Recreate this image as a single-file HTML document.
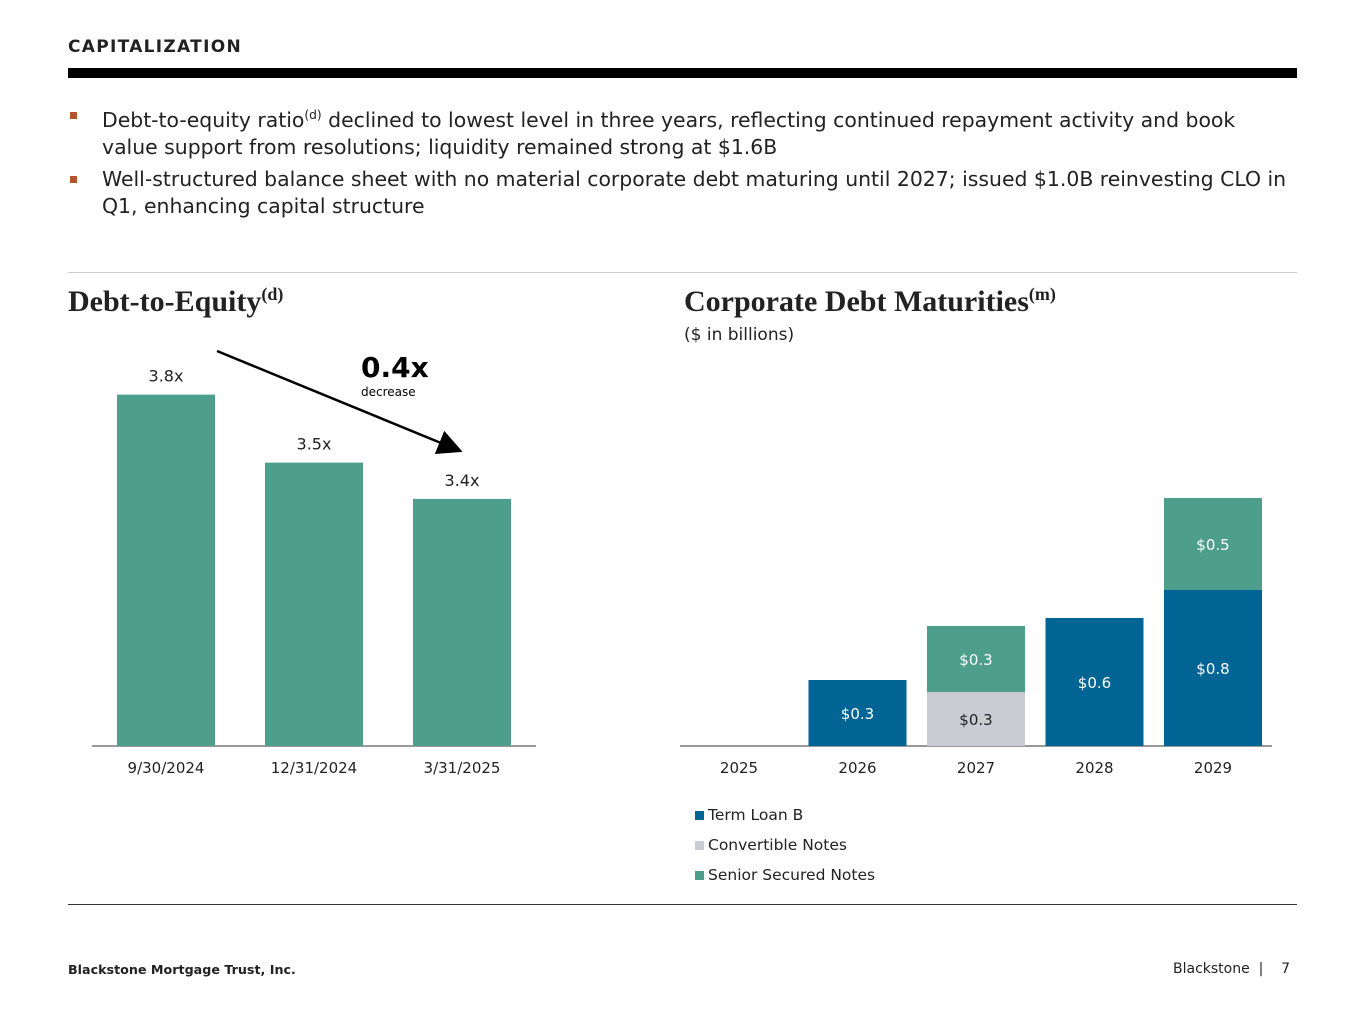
<!DOCTYPE html>
<html><head><meta charset="utf-8"><style>
body{margin:0;width:1365px;height:1024px;background:#fff;font-family:"DejaVu Sans","Liberation Sans",sans-serif;color:#222;position:relative;overflow:hidden}
.a{position:absolute}
.bul{font-size:20.4px;line-height:27px;left:102px;width:1188px}
.sq{position:absolute;left:70px;width:7px;height:7px;background:#b5532c}
.ttl{font-family:"Liberation Serif",serif;font-weight:bold;font-size:30px}
sup{font-size:60%}
</style></head><body>
<div class="a" style="left:68px;top:37px;font-size:17px;font-weight:bold;letter-spacing:1.3px">CAPITALIZATION</div>
<div class="a" style="left:68px;top:68px;width:1229px;height:10px;background:#000"></div>
<div class="sq" style="top:112px"></div>
<div class="a bul" style="top:102px">Debt-to-equity ratio<sup>(d)</sup> declined to lowest level in three years, reflecting continued repayment activity and book value support from resolutions; liquidity remained strong at $1.6B</div>
<div class="sq" style="top:176px"></div>
<div class="a bul" style="top:166px">Well-structured balance sheet with no material corporate debt maturing until 2027; issued $1.0B reinvesting CLO in Q1, enhancing capital structure</div>
<div class="a" style="left:68px;top:272px;width:1229px;height:1px;background:#ccc"></div>
<div class="a ttl" style="left:68px;top:284px">Debt-to-Equity<sup>(d)</sup></div>
<div class="a ttl" style="left:684px;top:284px">Corporate Debt Maturities<sup>(m)</sup></div>
<div class="a" style="left:684px;top:325px;font-size:17px">($ in billions)</div>
<svg class="a" style="left:0;top:0" width="1365" height="1024" id="svg">
<defs><marker id="ah" markerWidth="10" markerHeight="10" refX="8" refY="5" orient="auto"><path d="M0,0L10,5L0,10z" fill="#000"/></marker></defs>
<line x1="217" y1="351" x2="458" y2="450" stroke="#000" stroke-width="2.5" marker-end="url(#ah)"/>
<text x="361" y="377" font-size="28" font-weight="bold" font-family="DejaVu Sans">0.4x</text>
<text x="361" y="396" font-size="12" font-family="DejaVu Sans">decrease</text>
</svg>
<div class="a" style="left:695px;top:800px;font-size:15.5px;line-height:30px">
<div><span style="display:inline-block;width:9px;height:9px;background:#006494;margin-right:4px"></span>Term Loan B</div>
<div><span style="display:inline-block;width:9px;height:9px;background:#c9ccd3;margin-right:4px"></span>Convertible Notes</div>
<div><span style="display:inline-block;width:9px;height:9px;background:#4d9e8b;margin-right:4px"></span>Senior Secured Notes</div>
</div>
<div class="a" style="left:68px;top:904px;width:1229px;height:1px;background:#333"></div>
<div class="a" style="left:68px;top:962px;font-size:12.7px;font-weight:bold">Blackstone Mortgage Trust, Inc.</div>
<div class="a" style="left:1173px;top:961px;font-size:14px">Blackstone &nbsp;| &nbsp;&nbsp;&nbsp;7</div>
<script>
const deCats=["9/30/2024","12/31/2024","3/31/2025"];
const deValues=[3.8,3.5,3.34];
const deLabels=["3.8x","3.5x","3.4x"];
const yrCats=["2025","2026","2027","2028","2029"];
const tlbValues=[0,0.33,0,0.64,0.78];
const convValues=[0,0,0.27,0,0];
const ssnValues=[0,0,0.33,0,0.46];
const tlbLabels=["","$0.3","","$0.6","$0.8"];
const convLabels=["","","$0.3","",""];
const ssnLabels=["","","$0.3","","$0.5"];
const svg=document.getElementById('svg');const NS="http://www.w3.org/2000/svg";
function mk(t,a,txt){const e=document.createElementNS(NS,t);for(const k in a)e.setAttribute(k,a[k]);if(txt!==undefined)e.textContent=txt;svg.appendChild(e);return e;}
const base=746;
const deY=v=>base-(v-2.25)*226.7;
const deX=i=>117+i*148;
let ax=mk('line',{x1:92,x2:536,y1:base,y2:base,stroke:'#333','stroke-width':1});

deCats.forEach((c,i)=>{const y=deY(deValues[i]);
 let r=mk('rect',{x:deX(i),y:y,width:98,height:base-y,fill:'#4d9e8b'});
 
 let l=mk('text',{x:deX(i)+49,y:y-13,'text-anchor':'middle','font-size':16,fill:'#222'},deLabels[i]);
 
 let t=mk('text',{x:deX(i)+49,y:773,'text-anchor':'middle','font-size':15,fill:'#222'},c);
 });
const yS=v=>v*200;const yX=i=>690+i*118.5;
let ax2=mk('line',{x1:680,x2:1272,y1:base,y2:base,stroke:'#333','stroke-width':1});

yrCats.forEach((c,i)=>{let y0=base;
 [[tlbValues,tlbLabels,'#006494','#fff','tlb'],[convValues,convLabels,'#c9ccd3','#222','conv'],[ssnValues,ssnLabels,'#4d9e8b','#fff','ssn']].forEach(([vals,labs,col,tc,n])=>{
  const h=yS(vals[i]);if(h<=0)return;
  let r=mk('rect',{x:yX(i),y:y0-h,width:98,height:h,fill:col});
  
  let l=mk('text',{x:yX(i)+49,y:y0-h/2+6,'text-anchor':'middle','font-size':15,fill:tc},labs[i]);
  
  y0-=h;});
 let t=mk('text',{x:yX(i)+49,y:773,'text-anchor':'middle','font-size':15,fill:'#222'},c);
 });
</script>
</body></html>
